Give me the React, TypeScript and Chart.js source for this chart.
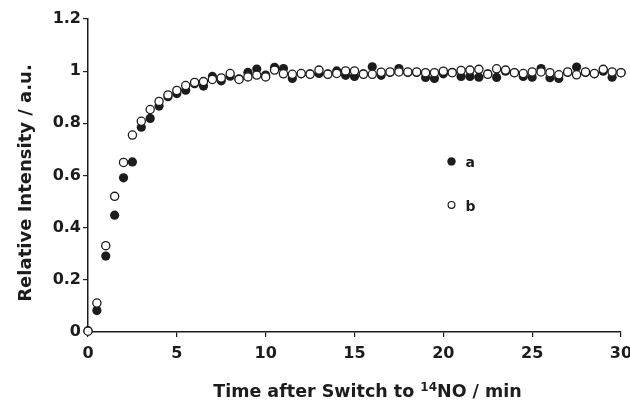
import React, { useEffect, useRef } from "react";
import { Chart, registerables } from "chart.js";

Chart.register(...registerables);

const times = [
  0, 0.5, 1, 1.5, 2, 2.5, 3, 3.5, 4, 4.5, 5, 5.5, 6, 6.5, 7, 7.5, 8, 8.5, 9, 9.5,
  10, 10.5, 11, 11.5, 12, 12.5, 13, 13.5, 14, 14.5, 15, 15.5, 16, 16.5, 17, 17.5,
  18, 18.5, 19, 19.5, 20, 20.5, 21, 21.5, 22, 22.5, 23, 23.5, 24, 24.5, 25, 25.5,
  26, 26.5, 27, 27.5, 28, 28.5, 29, 29.5, 30,
];

const seriesA = [
  0.005, 0.082, 0.291, 0.448, 0.591, 0.652, 0.785, 0.819, 0.866, 0.902, 0.914, 0.927,
  0.952, 0.943, 0.98, 0.963, 0.981, 0.971, 0.995, 1.008, 0.985, 1.015, 1.01, 0.972,
  0.99, 0.99, 0.991, 0.99, 1.001, 0.984, 0.98, 0.99, 1.017, 0.984, 0.995, 1.01,
  0.995, 0.995, 0.976, 0.972, 0.99, 0.995, 0.98, 0.98, 0.977, 0.99, 0.976, 1.0,
  0.994, 0.98, 0.977, 1.01, 0.975, 0.972, 0.995, 1.016, 0.995, 0.99, 1.0, 0.977, 0.994,
];

const seriesB = [
  0.003, 0.111, 0.331, 0.52, 0.65, 0.755, 0.808, 0.853, 0.884, 0.909, 0.926, 0.945,
  0.957, 0.96, 0.968, 0.974, 0.991, 0.968, 0.978, 0.985, 0.978, 1.004, 0.99, 0.988,
  0.991, 0.988, 1.004, 0.988, 0.991, 1.001, 1.001, 0.988, 0.988, 0.996, 0.997, 0.997,
  0.997, 0.997, 0.994, 0.994, 1.0, 0.994, 1.003, 1.004, 1.007, 0.988, 1.009, 1.004,
  0.994, 0.991, 0.997, 0.997, 0.994, 0.986, 0.997, 0.986, 0.997, 0.991, 1.007, 0.997, 0.994,
];

const seriesLabels = ["a", "b"];
const xTicks = [0, 5, 10, 15, 20, 25, 30];
const yTicks = [0, 0.2, 0.4, 0.6, 0.8, 1, 1.2];
const yTitle = "Relative Intensity / a.u.";
const xTitleParts = ["Time after Switch to ", "14", "NO / min"];

const FONT = "'DejaVu Sans', sans-serif";
const INK = "#1c1c1c";

const overlayPlugin = {
  id: "overlay",
  afterDraw(chart: any) {
    const ctx = chart.ctx;
    const area = chart.chartArea;
    const w = area.right - area.left;
    const h = area.bottom - area.top;
    ctx.save();
    // legend
    const lx = area.left + w * 0.682;
    const ly1 = area.top + h * 0.455;
    const ly2 = area.top + h * 0.594;
    ctx.lineWidth = 1.2;
    ctx.strokeStyle = INK;
    ctx.fillStyle = INK;
    ctx.beginPath();
    ctx.arc(lx, ly1, 4.2, 0, Math.PI * 2);
    ctx.fill();
    ctx.fillStyle = "#fff";
    ctx.beginPath();
    ctx.arc(lx, ly2, 3.4, 0, Math.PI * 2);
    ctx.fill();
    ctx.stroke();
    ctx.fillStyle = INK;
    ctx.font = `bold 14px ${FONT}`;
    ctx.textAlign = "left";
    ctx.textBaseline = "alphabetic";
    ctx.fillText(seriesLabels[0], lx + 14, ly1 + 5.5);
    ctx.fillText(seriesLabels[1], lx + 14, ly2 + 6);

    // x title with superscript
    const bigFont = `bold 17.5px ${FONT}`;
    const smallFont = `bold 12px ${FONT}`;
    ctx.font = bigFont;
    const w1 = ctx.measureText(xTitleParts[0]).width;
    const w3 = ctx.measureText(xTitleParts[2]).width;
    ctx.font = smallFont;
    const w2 = ctx.measureText(xTitleParts[1]).width;
    const total = w1 + w2 + w3;
    const cx = (area.left + area.right) / 2 + 13;
    let x = cx - total / 2;
    const base = 396.5;
    ctx.fillStyle = INK;
    ctx.font = bigFont;
    ctx.fillText(xTitleParts[0], x, base);
    x += w1;
    ctx.font = smallFont;
    ctx.fillText(xTitleParts[1], x, base - 6);
    x += w2;
    ctx.font = bigFont;
    ctx.fillText(xTitleParts[2], x, base);

    // y title
    ctx.translate(30.5, (area.top + area.bottom) / 2 + 7.5);
    ctx.rotate(-Math.PI / 2);
    ctx.textAlign = "center";
    ctx.textBaseline = "alphabetic";
    ctx.font = `bold 18px ${FONT}`;
    ctx.fillText(yTitle, 0, 0);
    ctx.restore();
  },
};

export default function App() {
  const ref = useRef<HTMLCanvasElement | null>(null);

  useEffect(() => {
    if (!ref.current) return;
    const mk = (vals: number[]) => times.map((t, i) => ({ x: t, y: vals[i] }));
    const chart = new Chart(ref.current, {
      type: "scatter",
      data: {
        datasets: [
          {
            label: seriesLabels[1],
            data: mk(seriesB),
            pointRadius: 4.1,
            pointBorderWidth: 1.3,
            pointBackgroundColor: "#fff",
            pointBorderColor: INK,
            order: 0,
            clip: false,
          } as any,
          {
            label: seriesLabels[0],
            data: mk(seriesA),
            pointRadius: 4.6,
            pointBorderWidth: 0,
            pointBackgroundColor: INK,
            pointBorderColor: INK,
            order: 1,
            clip: false,
          } as any,
        ],
      },
      options: {
        animation: false,
        responsive: false,
        maintainAspectRatio: false,
        layout: { padding: { top: 19, right: 9, left: 0, bottom: 0 } },
        plugins: {
          legend: { display: false },
          tooltip: { enabled: false },
          title: { display: false },
        },
        scales: {
          x: {
            type: "linear",
            min: 0,
            max: 30,
            afterBuildTicks: (s: any) => {
              s.ticks = xTicks.map((v) => ({ value: v }));
            },
            afterFit: (s: any) => {
              s.height = 69;
              s.paddingLeft = 0;
              s.paddingRight = 0;
            },
            grid: {
              display: true,
              drawOnChartArea: false,
              drawTicks: true,
              tickLength: 5,
              color: INK,
              lineWidth: 1.2,
            },
            border: { display: true, color: INK, width: 1.5 },
            ticks: {
              padding: 7,
              color: INK,
              font: { family: FONT, size: 16, weight: "bold" },
              maxRotation: 0,
            },
          },
          y: {
            type: "linear",
            min: 0,
            max: 1.2,
            afterBuildTicks: (s: any) => {
              s.ticks = yTicks.map((v) => ({ value: v }));
            },
            afterFit: (s: any) => {
              s.width = 88;
              s.paddingTop = 0;
              s.paddingBottom = 0;
            },
            grid: {
              display: true,
              drawOnChartArea: false,
              drawTicks: true,
              tickLength: 5,
              color: INK,
              lineWidth: 1.2,
            },
            border: { display: true, color: INK, width: 1.5 },
            ticks: {
              padding: 2,
              color: INK,
              font: { family: FONT, size: 16, weight: "bold" },
              callback: (v: any) => String(Math.round(Number(v) * 10) / 10),
            },
          },
        },
      },
      plugins: [overlayPlugin],
    });
    return () => chart.destroy();
  }, []);

  return (
    <div style={{ position: "fixed", left: 0, top: 0, width: 630, height: 401, background: "#fff" }}>
      <canvas ref={ref} width={630} height={401} style={{ width: 630, height: 401 }} />
    </div>
  );
}
